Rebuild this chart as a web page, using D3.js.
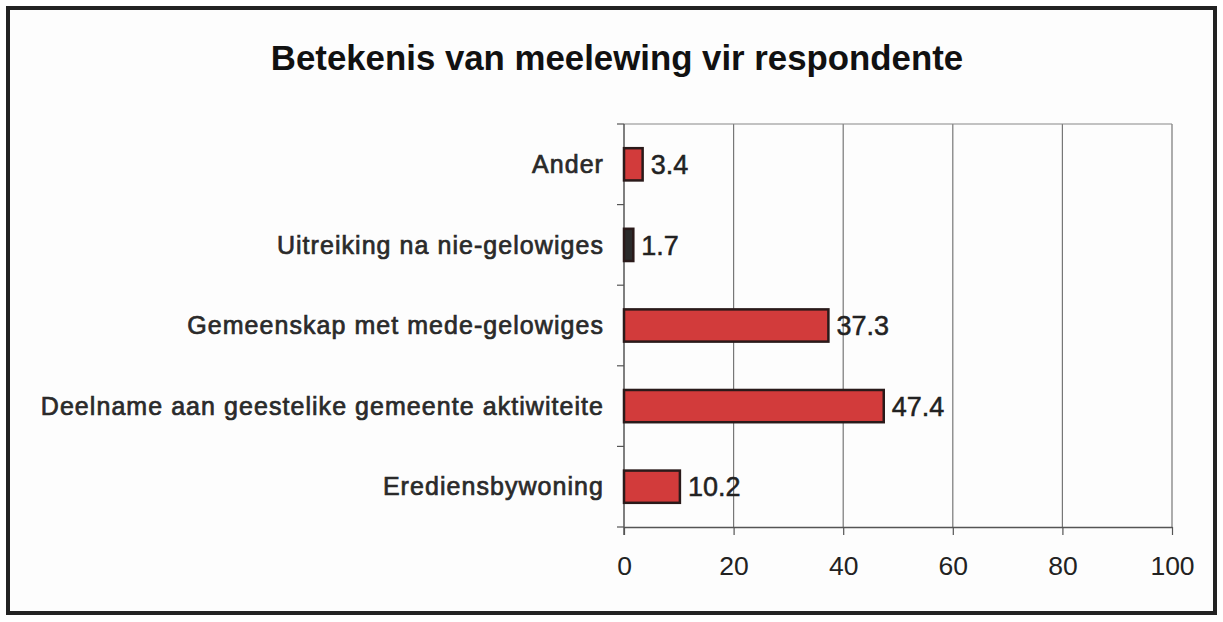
<!DOCTYPE html>
<meta charset="utf-8">
<html>
<style>
body { margin: 0; background: #fff; }
text { font-family: "Liberation Sans", Arial, sans-serif; }
</style>
<svg width="1223" height="622"></svg>
<script src="https://d3js.org/d3.v7.min.js"></script>
<script>
var categories = ["Ander", "Uitreiking na nie-gelowiges", "Gemeenskap met mede-gelowiges",
                  "Deelname aan geestelike gemeente aktiwiteite", "Erediensbywoning"];
var values = [3.4, 1.7, 37.3, 47.4, 10.2];
var barColors = ["#d23b3b", "#2b2b2b", "#d23b3b", "#d23b3b", "#d23b3b"];
var xTicks = [0, 20, 40, 60, 80, 100];

var svg = d3.select("svg");
var plotLeft = 624, plotRight = 1172, plotTop = 124, plotBottom = 527;

// outer frame
svg.append("rect").attr("x", 8).attr("y", 8).attr("width", 1207).attr("height", 605)
  .attr("fill", "#fdfdfd").attr("stroke", "#222").attr("stroke-width", 4);

svg.append("text").attr("x", 617).attr("y", 70).attr("text-anchor", "middle")
  .attr("font-size", 34.8).attr("font-weight", "bold").attr("fill", "#111")
  .text("Betekenis van meelewing vir respondente");

var x = d3.scaleLinear().domain([0, 100]).range([plotLeft, plotRight]);
var y = d3.scaleBand().domain(categories).range([plotTop, plotBottom]).paddingInner(0.6).paddingOuter(0.3);

// gridlines
svg.append("g").selectAll("line").data(xTicks.slice(1)).enter().append("line")
  .attr("x1", function(d) { return x(d); }).attr("x2", function(d) { return x(d); })
  .attr("y1", plotTop).attr("y2", plotBottom)
  .attr("stroke", "#777").attr("stroke-width", 1.2);
svg.append("line").attr("x1", plotLeft).attr("x2", plotRight).attr("y1", plotTop).attr("y2", plotTop)
  .attr("stroke", "#888").attr("stroke-width", 1.2);

// x axis
var xAxis = svg.append("g").attr("transform", "translate(0," + plotBottom + ")")
  .call(d3.axisBottom(x).tickValues(xTicks).tickSizeInner(8).tickSizeOuter(0).tickPadding(21));
xAxis.select(".domain").attr("stroke", "#555").attr("stroke-width", 1.5);
xAxis.selectAll(".tick line").attr("stroke", "#555").attr("stroke-width", 1.2);
xAxis.selectAll("text").attr("font-size", 26.5).attr("fill", "#222")
  .style("font-family", "'Liberation Sans', Arial, sans-serif");

// y axis with ticks between categories
var yAxisG = svg.append("g");
yAxisG.append("line").attr("x1", plotLeft).attr("x2", plotLeft).attr("y1", plotTop).attr("y2", plotBottom + 8)
  .attr("stroke", "#555").attr("stroke-width", 1.5);
var step = (plotBottom - plotTop) / categories.length;
yAxisG.selectAll(".yt").data(d3.range(categories.length + 1)).enter().append("line")
  .attr("x1", plotLeft - 7).attr("x2", plotLeft)
  .attr("y1", function(i) { return plotTop + i * step; }).attr("y2", function(i) { return plotTop + i * step; })
  .attr("stroke", "#555").attr("stroke-width", 1.2);

// category labels: medium weight look (regular + thin stroke)
svg.append("g").selectAll("text").data(categories).enter().append("text")
  .attr("x", plotLeft - 20).attr("y", function(d) { return y(d) + y.bandwidth() / 2; })
  .attr("dy", "0.35em").attr("text-anchor", "end").attr("font-size", 25)
  .attr("letter-spacing", 1.05)
  .attr("fill", "#2a2a2a").attr("stroke", "#2a2a2a").attr("stroke-width", 0.7)
  .text(function(d) { return d; });

// bars
svg.append("g").selectAll("rect").data(values).enter().append("rect")
  .attr("x", x(0)).attr("y", function(d, i) { return y(categories[i]); })
  .attr("width", function(d) { return x(d) - x(0); }).attr("height", y.bandwidth())
  .attr("fill", function(d, i) { return barColors[i]; })
  .attr("stroke", "#2a1a1a").attr("stroke-width", 2.5);

svg.append("g").selectAll("text").data(values).enter().append("text")
  .attr("x", function(d) { return x(d) + 8; })
  .attr("y", function(d, i) { return y(categories[i]) + y.bandwidth() / 2; })
  .attr("dy", "0.36em").attr("font-size", 27).attr("fill", "#222")
  .attr("stroke", "#222").attr("stroke-width", 0.5)
  .text(function(d) { return d.toFixed(1); });
</script>
</html>
